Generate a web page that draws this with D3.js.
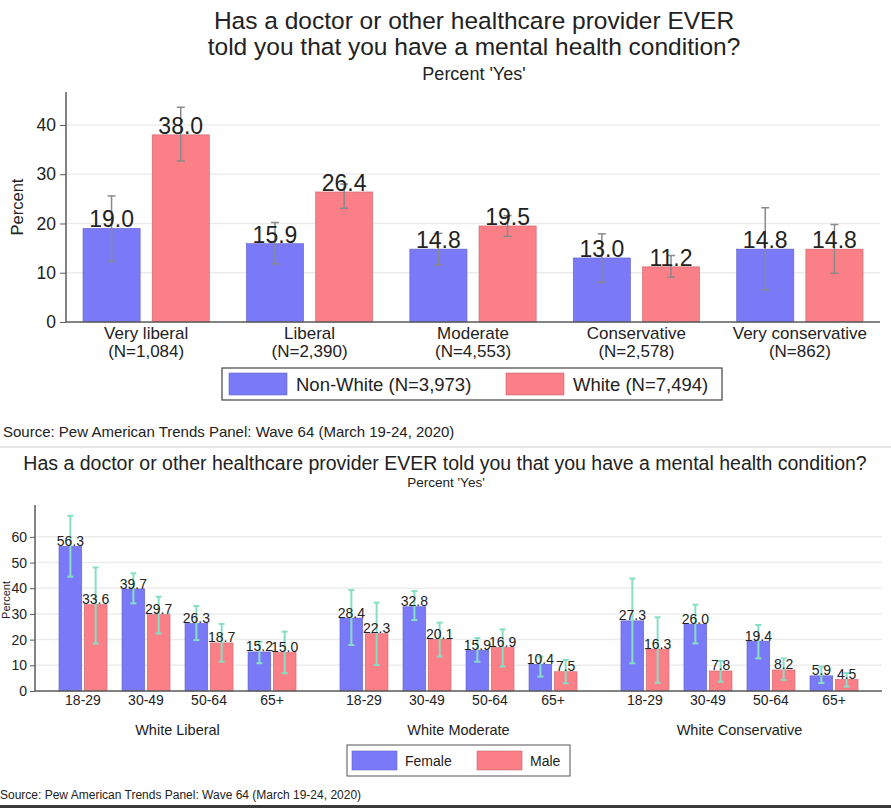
<!DOCTYPE html>
<html>
<head>
<meta charset="utf-8">
<script src="https://cdn.jsdelivr.net/npm/d3@7"></script>
<style>
  body { margin: 0; background: #fff; }
  text { font-family: "Liberation Sans", Arial, sans-serif; fill: #222; }
</style>
</head>
<body>
<script>
//Top chart data
var ideologies = ["Very liberal", "Liberal", "Moderate", "Conservative", "Very conservative"];
var ideologyN = ["(N=1,084)", "(N=2,390)", "(N=4,553)", "(N=2,578)", "(N=862)"];
var raceKeys = ["Non-White (N=3,973)", "White (N=7,494)"];
var nonWhite = [19.0, 15.9, 14.8, 13.0, 14.8];
var white = [38.0, 26.4, 19.5, 11.2, 14.8];
var nonWhiteLo = [12.3, 11.8, 11.6, 8.1, 6.5];
var nonWhiteHi = [25.6, 20.2, 18.0, 17.9, 23.2];
var whiteLo = [32.7, 23.1, 17.4, 9.1, 9.9];
var whiteHi = [43.6, 28.0, 21.6, 13.5, 19.8];
var topTicks = [0, 10, 20, 30, 40];

//Bottom chart data
var groups = ["White Liberal", "White Moderate", "White Conservative"];
var ages = ["18-29", "30-49", "50-64", "65+"];
var sexKeys = ["Female", "Male"];
var female = [[56.3, 39.7, 26.3, 15.2], [28.4, 32.8, 15.9, 10.4], [27.3, 26.0, 19.4, 5.9]];
var male = [[33.6, 29.7, 18.7, 15.0], [22.3, 20.1, 16.9, 7.5], [16.3, 7.8, 8.2, 4.5]];
var femaleLo = [[44.5, 34.1, 19.8, 10.8], [17.9, 27.6, 11.4, 5.6], [10.8, 18.5, 12.7, 3.1]];
var femaleHi = [[68.2, 45.8, 33.1, 19.2], [39.3, 38.9, 20.6, 13.4], [43.8, 33.6, 25.7, 9.5]];
var maleLo = [[18.5, 22.4, 11.4, 6.9], [10.1, 13.4, 9.5, 3.0], [3.2, 3.6, 4.3, 1.7]];
var maleHi = [[48.1, 36.7, 26.1, 23.1], [34.4, 26.6, 24.0, 12.1], [28.7, 11.7, 12.7, 7.0]];
var bottomTicks = [0, 10, 20, 30, 40, 50, 60];

var source = "Source: Pew American Trends Panel: Wave 64 (March 19-24, 2020)";

var w = 891, h = 808;
var blue = "#7a7af8", red = "#fa7f87";
var axisColor = "#5a5a5a", gridColor = "#ececec";

var svg = d3.select("body").append("svg").attr("width", w).attr("height", h);

// ---------------- TOP CHART ----------------
svg.append("text").attr("x", 474).attr("y", 29).attr("text-anchor", "middle")
  .style("font-size", "24.5px").text("Has a doctor or other healthcare provider EVER");
svg.append("text").attr("x", 474).attr("y", 55).attr("text-anchor", "middle")
  .style("font-size", "24.5px").text("told you that you have a mental health condition?");
svg.append("text").attr("x", 474).attr("y", 80).attr("text-anchor", "middle")
  .style("font-size", "18px").text("Percent 'Yes'");

var tLeft = 66, tRight = 880;
var yTop = d3.scaleLinear().domain([0, 46.7]).range([322, 92]);
var xTop = d3.scaleBand().domain(ideologies).range([tLeft, tRight])
  .paddingInner(0.227).paddingOuter(0.104);
var xTopInner = d3.scaleBand().domain(raceKeys).range([0, xTop.bandwidth()]).paddingInner(0.174);

//Gridlines
svg.append("g").selectAll("line").data(topTicks.slice(1)).join("line")
  .attr("x1", tLeft).attr("x2", tRight)
  .attr("y1", function (d) { return yTop(d); }).attr("y2", function (d) { return yTop(d); })
  .attr("stroke", gridColor).attr("stroke-width", 1.5);

var topRows = [];
ideologies.forEach(function (c, i) {
  topRows.push({ cat: c, key: raceKeys[0], v: nonWhite[i], lo: nonWhiteLo[i], hi: nonWhiteHi[i], color: blue });
  topRows.push({ cat: c, key: raceKeys[1], v: white[i], lo: whiteLo[i], hi: whiteHi[i], color: red });
});

var tg = svg.append("g");
tg.selectAll("rect").data(topRows).join("rect")
  .attr("x", function (d) { return xTop(d.cat) + xTopInner(d.key); })
  .attr("y", function (d) { return yTop(d.v); })
  .attr("width", xTopInner.bandwidth())
  .attr("height", function (d) { return yTop(0) - yTop(d.v); })
  .attr("fill", function (d) { return d.color; })
  .attr("stroke", function (d) { return d3.color(d.color).darker(0.6); })
  .attr("stroke-width", 0.6);

//Error bars
var tErr = tg.selectAll("g.err").data(topRows).join("g").attr("class", "err")
  .attr("stroke", "#8a8a8a").attr("stroke-width", 1.5);
tErr.append("line")
  .attr("x1", function (d) { return xTop(d.cat) + xTopInner(d.key) + xTopInner.bandwidth() / 2; })
  .attr("x2", function (d) { return xTop(d.cat) + xTopInner(d.key) + xTopInner.bandwidth() / 2; })
  .attr("y1", function (d) { return yTop(d.lo); }).attr("y2", function (d) { return yTop(d.hi); });
["lo", "hi"].forEach(function (k) {
  tErr.append("line")
    .attr("x1", function (d) { return xTop(d.cat) + xTopInner(d.key) + xTopInner.bandwidth() / 2 - 4; })
    .attr("x2", function (d) { return xTop(d.cat) + xTopInner(d.key) + xTopInner.bandwidth() / 2 + 4; })
    .attr("y1", function (d) { return yTop(d[k]); }).attr("y2", function (d) { return yTop(d[k]); });
});

//Value labels
tg.selectAll("text.val").data(topRows).join("text").attr("class", "val")
  .attr("x", function (d) { return xTop(d.cat) + xTopInner(d.key) + xTopInner.bandwidth() / 2; })
  .attr("y", function (d) { return yTop(d.v) - 1; })
  .attr("text-anchor", "middle").style("font-size", "23px")
  .text(function (d) { return d.v.toFixed(1); });

//Axes
var yAxisTop = d3.axisLeft(yTop).tickValues(topTicks).tickSize(6).tickPadding(4);
var gyt = svg.append("g").attr("transform", "translate(" + tLeft + ",0)").call(yAxisTop);
gyt.select(".domain").attr("stroke", axisColor).attr("stroke-width", 1.5).attr("d", "M0," + yTop(0) + "V" + yTop(46.7));
gyt.selectAll(".tick line").attr("stroke", axisColor);
gyt.selectAll(".tick text").style("font-size", "17.5px").style("font-family", "Liberation Sans, Arial, sans-serif").attr("fill", "#222");

svg.append("line").attr("x1", tLeft).attr("x2", tRight).attr("y1", yTop(0)).attr("y2", yTop(0))
  .attr("stroke", axisColor).attr("stroke-width", 1.5);

svg.append("text").attr("transform", "translate(23," + 207 + ") rotate(-90)")
  .attr("text-anchor", "middle").style("font-size", "16.5px").text("Percent");

var catLab = svg.append("g").selectAll("g").data(ideologies).join("g")
  .attr("transform", function (d) { return "translate(" + (xTop(d) + xTop.bandwidth() / 2) + ",0)"; });
catLab.append("text").attr("y", 339).attr("text-anchor", "middle").style("font-size", "17px")
  .text(function (d) { return d; });
catLab.append("text").attr("y", 357).attr("text-anchor", "middle").style("font-size", "17px")
  .text(function (d, i) { return ideologyN[i]; });

//Legend
var lgTop = svg.append("g");
lgTop.append("rect").attr("x", 222).attr("y", 368).attr("width", 500).attr("height", 32)
  .attr("fill", "#fff").attr("stroke", "#444").attr("stroke-width", 1.2);
var lgItems = [{ x: 229, c: blue, t: raceKeys[0] }, { x: 506, c: red, t: raceKeys[1] }];
lgItems.forEach(function (d) {
  lgTop.append("rect").attr("x", d.x).attr("y", 373).attr("width", 58).attr("height", 22)
    .attr("fill", d.c).attr("stroke", d3.color(d.c).darker(0.6)).attr("stroke-width", 0.6);
  lgTop.append("text").attr("x", d.x + 67).attr("y", 391).style("font-size", "18.5px").text(d.t);
});

svg.append("text").attr("x", 3).attr("y", 437).style("font-size", "15px").text(source);
svg.append("line").attr("x1", 0).attr("x2", w).attr("y1", 447).attr("y2", 447)
  .attr("stroke", "#e4e4e4").attr("stroke-width", 2);

// ---------------- BOTTOM CHART ----------------
svg.append("text").attr("x", 445).attr("y", 470).attr("text-anchor", "middle")
  .style("font-size", "19.5px").text("Has a doctor or other healthcare provider EVER told you that you have a mental health condition?");
svg.append("text").attr("x", 446).attr("y", 487).attr("text-anchor", "middle")
  .style("font-size", "13.5px").text("Percent 'Yes'");

var bLeft = 35, bRight = 882;
var yBot = d3.scaleLinear().domain([0, 72.4]).range([691, 505]);
var xGroup = d3.scaleBand().domain(groups).range([bLeft, bRight])
  .paddingInner(0.103).paddingOuter(0.0587);
var xAge = d3.scaleBand().domain(ages).range([0, xGroup.bandwidth()])
  .paddingInner(0.238).paddingOuter(0.119);
var xSex = d3.scaleBand().domain(sexKeys).range([0, xAge.bandwidth()]).paddingInner(0.1);

svg.append("g").selectAll("line").data(bottomTicks.slice(1)).join("line")
  .attr("x1", bLeft).attr("x2", bRight)
  .attr("y1", function (d) { return yBot(d); }).attr("y2", function (d) { return yBot(d); })
  .attr("stroke", gridColor).attr("stroke-width", 1.5);

var botRows = [];
groups.forEach(function (g, gi) {
  ages.forEach(function (a, ai) {
    botRows.push({ g: g, a: a, key: "Female", v: female[gi][ai], lo: femaleLo[gi][ai], hi: femaleHi[gi][ai], color: blue });
    botRows.push({ g: g, a: a, key: "Male", v: male[gi][ai], lo: maleLo[gi][ai], hi: maleHi[gi][ai], color: red });
  });
});
function bx(d) { return xGroup(d.g) + xAge(d.a) + xSex(d.key); }
function bcx(d) { return bx(d) + xSex.bandwidth() / 2; }

var bg = svg.append("g");
bg.selectAll("rect").data(botRows).join("rect")
  .attr("x", bx)
  .attr("y", function (d) { return yBot(d.v); })
  .attr("width", xSex.bandwidth())
  .attr("height", function (d) { return yBot(0) - yBot(d.v); })
  .attr("fill", function (d) { return d.color; })
  .attr("stroke", function (d) { return d3.color(d.color).darker(0.6); })
  .attr("stroke-width", 0.6);

var bErr = bg.selectAll("g.err").data(botRows).join("g").attr("class", "err")
  .attr("stroke", "#86dfc4").attr("stroke-width", 2);
bErr.append("line").attr("x1", bcx).attr("x2", bcx)
  .attr("y1", function (d) { return yBot(d.lo); }).attr("y2", function (d) { return yBot(d.hi); });
["lo", "hi"].forEach(function (k) {
  bErr.append("line")
    .attr("x1", function (d) { return bcx(d) - 3; }).attr("x2", function (d) { return bcx(d) + 3; })
    .attr("y1", function (d) { return yBot(d[k]); }).attr("y2", function (d) { return yBot(d[k]); });
});

bg.selectAll("text.val").data(botRows).join("text").attr("class", "val")
  .attr("x", bcx)
  .attr("y", function (d) { return yBot(d.v) - 0.5; })
  .attr("text-anchor", "middle").style("font-size", "14px")
  .text(function (d) { return d.v.toFixed(1); });

var yAxisBot = d3.axisLeft(yBot).tickValues(bottomTicks).tickSize(5).tickPadding(3);
var gyb = svg.append("g").attr("transform", "translate(" + bLeft + ",0)").call(yAxisBot);
gyb.select(".domain").attr("stroke", axisColor).attr("stroke-width", 1.5).attr("d", "M0," + yBot(0) + "V" + yBot(72.4));
gyb.selectAll(".tick line").attr("stroke", axisColor);
gyb.selectAll(".tick text").style("font-size", "14px").style("font-family", "Liberation Sans, Arial, sans-serif").attr("fill", "#222");

svg.append("line").attr("x1", bLeft).attr("x2", bRight).attr("y1", yBot(0)).attr("y2", yBot(0))
  .attr("stroke", axisColor).attr("stroke-width", 1.5);

svg.append("text").attr("transform", "translate(10,600) rotate(-90)")
  .attr("text-anchor", "middle").style("font-size", "11px").text("Percent");

var ageLab = svg.append("g");
groups.forEach(function (g, gi) {
  ageLab.selectAll("text.age-" + gi).data(ages).join("text")
    .attr("class", "age-" + gi)
    .attr("x", function (a) { return xGroup(g) + xAge(a) + xAge.bandwidth() / 2; })
    .attr("y", 705).attr("text-anchor", "middle").style("font-size", "14px")
    .text(function (a) { return a; });
});
svg.append("g").selectAll("text").data(groups).join("text")
  .attr("x", function (g) { return xGroup(g) + xGroup.bandwidth() / 2; })
  .attr("y", 735).attr("text-anchor", "middle").style("font-size", "14.5px")
  .text(function (g) { return g; });

var lgBot = svg.append("g");
lgBot.append("rect").attr("x", 347).attr("y", 745).attr("width", 223).attr("height", 31)
  .attr("fill", "#fff").attr("stroke", "#555").attr("stroke-width", 1);
[{ x: 352, c: blue, t: sexKeys[0] }, { x: 477, c: red, t: sexKeys[1] }].forEach(function (d) {
  lgBot.append("rect").attr("x", d.x).attr("y", 751).attr("width", 45).attr("height", 19)
    .attr("fill", d.c).attr("stroke", d3.color(d.c).darker(0.6)).attr("stroke-width", 0.6);
  lgBot.append("text").attr("x", d.x + 53).attr("y", 766).style("font-size", "14px").text(d.t);
});

svg.append("text").attr("x", 0).attr("y", 799).style("font-size", "12px").text(source);
svg.append("rect").attr("x", 0).attr("y", 805).attr("width", w).attr("height", 3).attr("fill", "#3a3a3a");
</script>
</body>
</html>
